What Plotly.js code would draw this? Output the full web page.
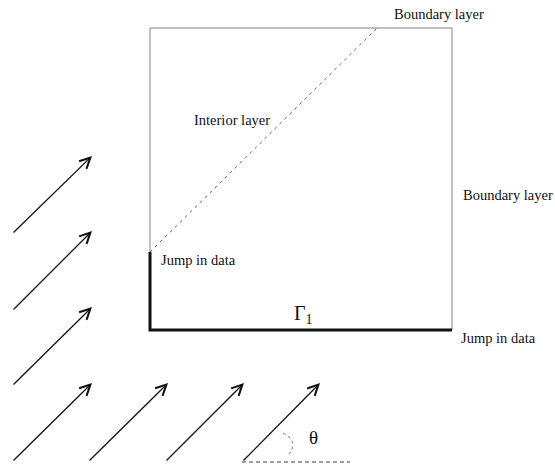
<!DOCTYPE html>
<html>
<head>
<meta charset="utf-8">
<script src="https://cdn.plot.ly/plotly-3.0.1.min.js"></script>
<style>html,body{margin:0;padding:0;background:#fff;}#chart{width:555px;height:464px;}</style>
</head>
<body>
<div id="chart"></div>
<script>
// Diagram coordinates (pixel-like units, y grows downward)
const squareX = [150, 452];          // left, right
const squareY = [28, 330];           // top, bottom
const jumpY = 252;                   // where the thick left boundary starts
const diagonalEndX = 377;            // interior layer meets top edge
// Arrows: tails and heads
const arrowTailX = [12, 12, 12, 12, 88, 165, 242];
const arrowTailY = [234, 311, 386, 462, 462, 462, 462];
const arrowHeadX = [92, 92, 92, 92, 168, 244, 320];
const arrowHeadY = [156, 231, 307, 383, 383, 383, 383];
// Angle marker
const refLineX = [242, 350];
const refLineY = [462, 462];
const arcX = [283, 290, 293, 291, 288];
const arcY = [433, 438, 445, 451, 456];
// Labels
const labelText = ['Boundary layer', 'Interior layer', 'Boundary layer', 'Jump in data', 'Jump in data', 'Γ<sub>1</sub>', 'θ'];
const labelX = [392, 192, 461, 159, 459, 292, 307];
const labelY = [14, 120, 195, 260, 338, 314, 437];
const labelSize = [14.5, 14.5, 14.5, 14.5, 14.5, 20, 19];

const thin = {color: '#808080', width: 1};
const thick = {color: '#111', width: 3};
const traces = [
  // thin top / right / upper-left edges
  {x: [squareX[0], squareX[0], squareX[1], squareX[1]], y: [jumpY, squareY[0], squareY[0], squareY[1]],
   mode: 'lines', line: thin, hoverinfo: 'skip'},
  // thick jump boundary: lower-left and bottom
  {x: [squareX[0], squareX[0], squareX[1]], y: [jumpY, squareY[1], squareY[1]],
   mode: 'lines', line: thick, hoverinfo: 'skip'},
  // interior layer (dashed diagonal)
  {x: [squareX[0], diagonalEndX], y: [jumpY, squareY[0]],
   mode: 'lines', line: {color: '#606060', width: 1, dash: '3px,4px'}, hoverinfo: 'skip'},
  // horizontal reference line for theta
  {x: refLineX, y: refLineY, mode: 'lines', line: {color: '#808080', width: 1.3, dash: '4px,3px'}, hoverinfo: 'skip'},
  // angle arc
  {x: arcX, y: arcY, mode: 'lines', line: {color: '#808080', width: 1, dash: '3px,3px', shape: 'spline'}, hoverinfo: 'skip'}
];

const annotations = [];
for (let i = 0; i < arrowTailX.length; i++) {
  annotations.push({x: arrowHeadX[i], y: arrowHeadY[i], ax: arrowTailX[i], ay: arrowTailY[i],
    xref: 'x', yref: 'y', axref: 'x', ayref: 'y', text: '', showarrow: true,
    arrowhead: 5, arrowsize: 1.6, arrowwidth: 1.3, arrowcolor: '#111', standoff: 0, startstandoff: 0});
}
for (let i = 0; i < labelText.length; i++) {
  annotations.push({x: labelX[i], y: labelY[i], xref: 'x', yref: 'y', text: labelText[i], showarrow: false,
    xanchor: 'left', yanchor: 'middle',
    font: {family: 'Liberation Serif, Times New Roman, serif', size: labelSize[i], color: '#111'}});
}

const layout = {
  width: 555, height: 464,
  margin: {l: 0, r: 0, t: 0, b: 0},
  paper_bgcolor: '#fff', plot_bgcolor: '#fff',
  showlegend: false,
  xaxis: {range: [0, 555], visible: false, fixedrange: true},
  yaxis: {range: [464, 0], visible: false, fixedrange: true},
  annotations: annotations
};
Plotly.newPlot('chart', traces, layout, {staticPlot: true, displayModeBar: false});
</script>
</body>
</html>
